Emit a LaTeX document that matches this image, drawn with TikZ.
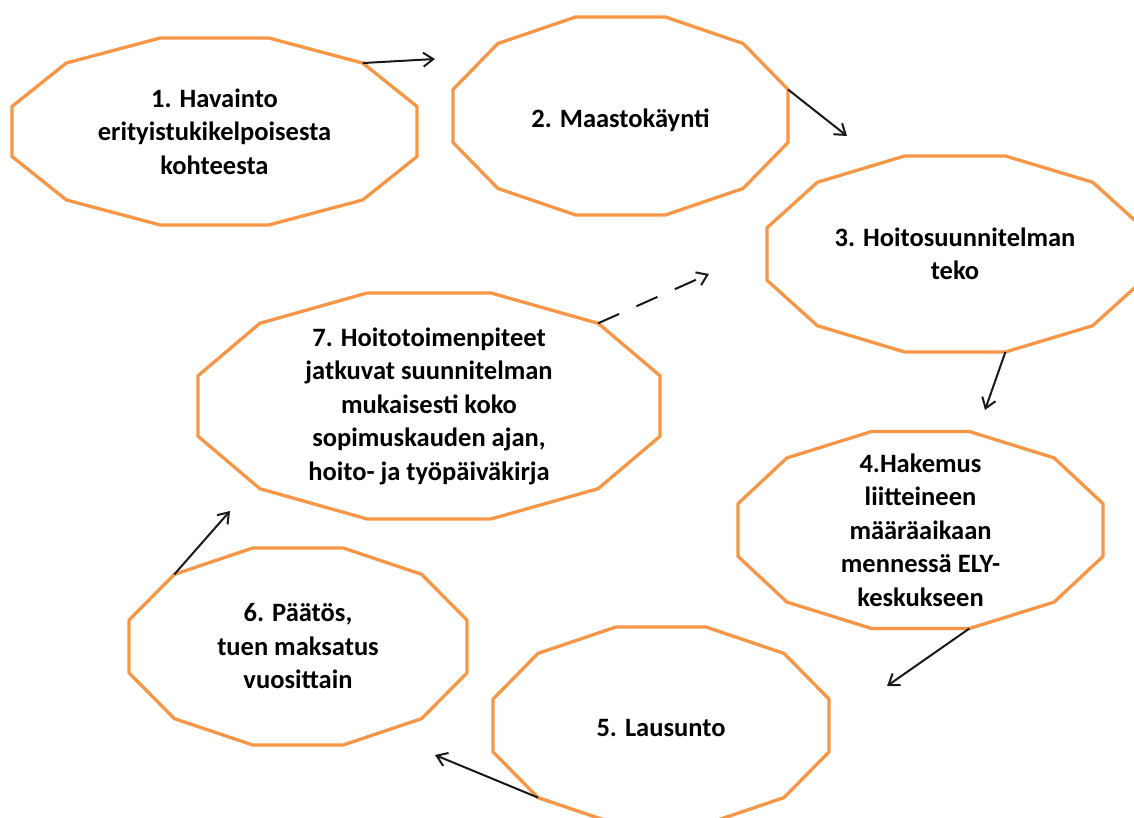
\documentclass[tikz,border=0pt]{standalone}
\usepackage{fontspec}
\setmainfont{Carlito}
\usepackage{xcolor}
\usetikzlibrary{arrows.meta,calc}
\definecolor{stepOrange}{HTML}{F79646}
\tikzset{
  steptext/.style={align=center, inner sep=0pt, text=black,
                   font=\bfseries\fontsize{26.5}{33.5}\selectfont},
  stepline/.style={draw=stepOrange, line width=3.3pt, line join=round},
  ar/.style={-{Straight Barb[length=10pt,width=14pt]}, line width=2pt, draw=black!90},
  dar/.style={ar, dash pattern=on 23pt off 19pt}
}
% stretched 12-gon round a node: node, x half-size, y half-size
\newcommand{\dodecagon}[3]{%
  \draw[stepline, shift={(#1.center)}]
    (15:{#2/cos(15)} and {#3/cos(15)}) coordinate (#1-15)
    \foreach \a in {45,75,...,345}{ -- (\a:{#2/cos(15)} and {#3/cos(15)}) coordinate (#1-\a) }
    -- cycle;
}

\begin{document}
\begin{tikzpicture}[x=1pt, y=1pt]
\useasboundingbox (0,0) rectangle (1134,818);
% ---- steps ----
\node[steptext] (s1) at (214.5,686.5) {1. Havainto\\erityistukikelpoisesta\\kohteesta};
\node[steptext] (s2) at (620.5,698) {2. Maastokäynti};
\node[steptext] (s3) at (955,564) {3. Hoitosuunnitelman\\teko};
\node[steptext] (s4) at (920.5,288) {4.Hakemus\\liitteineen\\määräaikaan\\mennessä ELY-\\keskukseen};
\node[steptext] (s5) at (661,89.5) {5. Lausunto};
\node[steptext] (s6) at (298,171.5) {6. Päätös,\\tuen maksatus\\vuosittain};
\node[steptext] (s7) at (429,412) {7. Hoitotoimenpiteet\\jatkuvat suunnitelman\\mukaisesti koko\\sopimuskauden ajan,\\hoito- ja työpäiväkirja};
\coordinate (c2) at (620.5,702);
\coordinate (c5) at (661,92.5);
\dodecagon{s1}{202.5}{93.5}
\dodecagon{c2}{167.5}{99}
\dodecagon{s3}{188}{98}
\dodecagon{s4}{182.5}{98.5}
\dodecagon{c5}{168}{98.5}
\dodecagon{s6}{169}{98.5}
\dodecagon{s7}{231}{113}
% ---- arrow tips ----
\coordinate (to2) at (435,759);
\coordinate (to3) at (847,682);
\coordinate (to4) at (985,408);
\coordinate (to5) at (887,132);
\coordinate (to6) at (435,63);
\coordinate (to7) at (230,307);
\coordinate (to3b) at (709,544);
% ---- arrows ----
\draw[ar] (s1-45) -- (to2);
\draw[ar] (c2-15) -- (to3);
\draw[ar] (s3-285) -- (to4);
\draw[ar] (s4-285) -- (to5);
\draw[ar] (c5-225) -- (to6);
\draw[ar] (s6-135) -- (to7);
\draw[dar] (s7-45) -- (to3b);
\end{tikzpicture}
\end{document}
